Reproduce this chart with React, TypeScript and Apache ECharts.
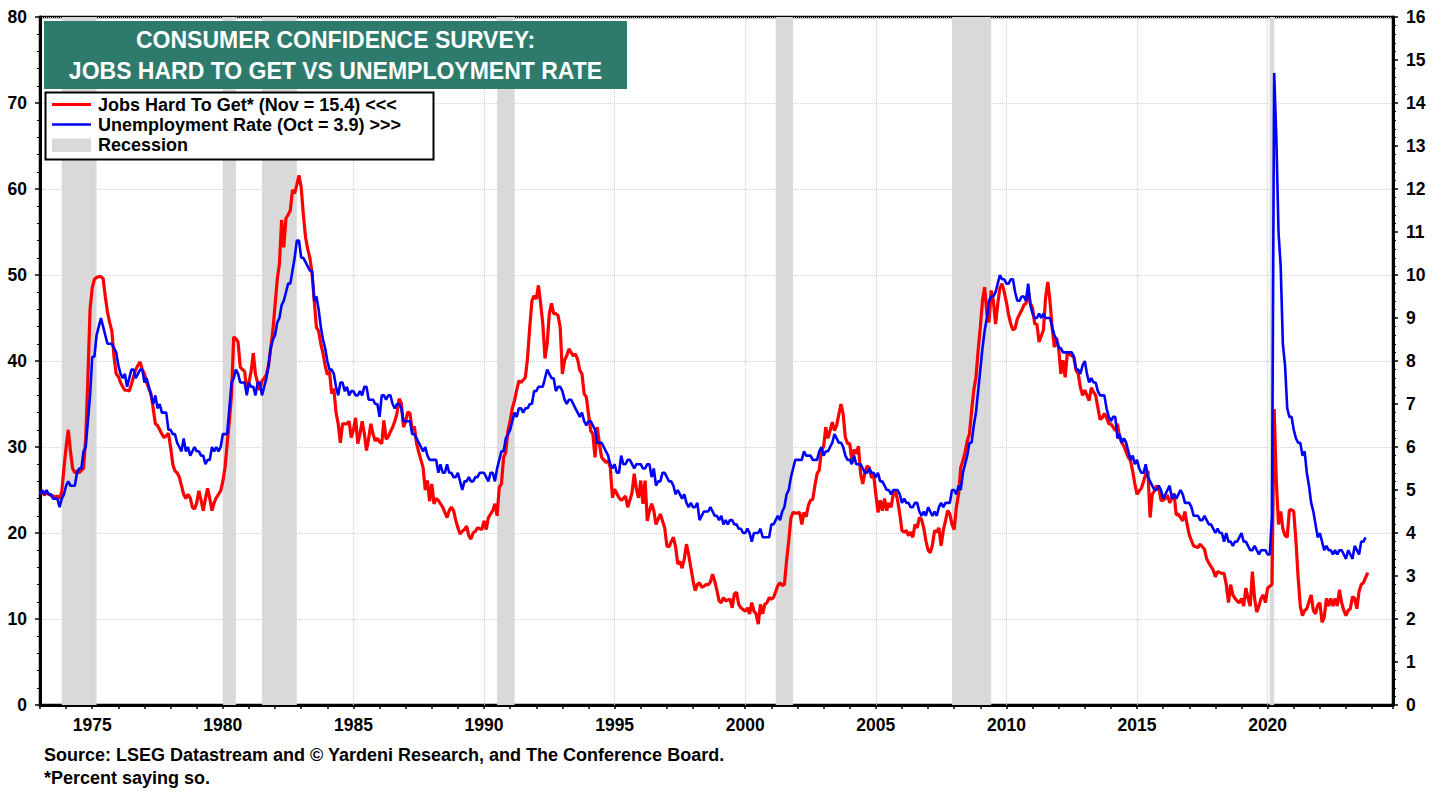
import React, { useEffect, useRef } from 'react';
import * as echarts from 'echarts';

const START_YEAR = 1973;
const X_MIN = 1973;
const X_MAX = 2024.8;

// Jobs Hard To Get (% saying so), monthly from Jan 1973
const jobsHard1970s = [
  24.6, 24.8, 24.4, 24.7, 24.5, 24.4, 24.3, 24.2, 24.3, 24.0, 24.8, 27.5,
  30.0, 32.0, 29.5, 27.5, 27.0, 27.2, 27.0, 27.3, 27.5, 31.0, 38.0, 46.0,
  48.5, 49.5, 49.7, 49.8, 49.8, 49.6, 47.5, 45.7, 44.5, 43.5, 40.5, 38.5,
  38.2, 37.5, 37.0, 36.6, 36.6, 36.5, 37.3, 38.2, 39.0, 39.5, 39.9, 39.0,
  38.5, 37.5, 36.8, 36.2, 34.5, 32.7, 32.5, 32.0, 31.5, 31.1, 31.3, 31.6,
  30.0, 28.0, 27.2, 27.0, 26.5, 25.5, 24.5, 24.0, 24.5, 24.1, 23.0, 22.8,
  23.5, 24.9, 23.8, 22.6, 24.0, 25.2, 24.0, 22.6, 23.5, 24.1, 24.5, 24.9,
];
const jobsHard1980s = [
  26.0, 27.6, 30.4, 33.0, 36.2, 42.8, 42.6, 42.2, 39.3, 39.0, 38.8, 36.6,
  37.5, 38.8, 40.9, 38.4, 37.5, 36.6, 37.7, 38.0, 38.4, 39.5, 41.5, 43.6,
  46.5, 49.5, 51.3, 56.4, 53.2, 56.6, 57.0, 57.5, 59.9, 59.5, 60.5, 61.6,
  60.2, 57.0, 54.4, 53.0, 52.0, 50.1, 47.0, 43.9, 43.5, 42.0, 40.9, 39.5,
  38.4, 38.8, 36.2, 36.8, 34.0, 32.7, 30.5, 32.7, 32.7, 32.7, 33.0, 31.1,
  32.0, 33.4, 30.4, 31.5, 33.0, 31.6, 29.6, 31.0, 32.7, 31.5, 30.7, 31.0,
  30.6, 30.4, 33.1, 30.9, 31.2, 31.8, 32.3, 33.0, 33.9, 35.6, 35.1, 32.3,
  33.0, 34.1, 33.9, 31.9, 32.4, 30.4, 29.4, 28.5, 27.6, 25.0, 26.1, 23.7,
  25.7, 23.4, 24.0, 23.8, 23.4, 23.0, 22.4, 21.8, 22.6, 23.0, 22.6, 21.5,
  20.6, 19.9, 20.2, 20.4, 20.8, 19.7, 19.3, 20.0, 20.2, 20.6, 20.5, 20.4,
];
const jobsHard1990s = [
  21.4, 20.4, 21.8, 22.2, 22.6, 23.4, 22.0, 25.3, 25.7, 28.8, 29.4, 31.9,
  33.0, 34.5, 35.4, 36.6, 37.7, 37.5, 37.8, 38.1, 40.4, 43.9, 47.0, 47.6,
  47.2, 48.8, 46.7, 44.3, 40.3, 42.0, 45.5, 46.7, 45.5, 45.5, 45.3, 43.9,
  38.5, 40.1, 40.6, 41.4, 41.0, 40.6, 40.8, 40.2, 38.9, 38.5, 36.2, 35.8,
  33.8, 31.9, 31.5, 28.8, 32.3, 30.4, 28.8, 28.5, 28.2, 28.4, 27.6, 24.1,
  25.1, 24.6, 24.1, 23.8, 24.0, 24.3, 23.0, 23.8, 24.7, 26.9, 25.1, 24.1,
  26.1, 23.4, 26.1, 21.4, 22.6, 23.4, 22.6, 21.0, 21.6, 22.2, 21.4, 20.6,
  18.5, 18.4, 19.0, 19.5, 18.4, 16.4, 16.7, 15.9, 17.0, 18.7, 17.5, 16.0,
  14.5, 13.3, 14.0, 14.2, 13.7, 13.8, 14.0, 14.0, 14.3, 15.2, 14.4, 13.3,
  12.1, 11.9, 12.5, 12.1, 12.2, 12.3, 11.3, 12.9, 13.1, 11.7, 11.3, 11.1,
];
const jobsHard2000s = [
  10.9, 11.3, 10.6, 11.9, 10.9, 10.6, 9.4, 11.7, 10.6, 11.7, 11.9, 12.5,
  12.3, 12.5, 13.2, 13.9, 14.2, 13.9, 14.0, 16.8, 19.1, 21.8, 22.4, 22.3,
  22.3, 22.4, 21.0, 22.4, 21.9, 23.2, 23.8, 23.9, 25.5, 26.9, 27.3, 29.6,
  30.0, 32.3, 31.0, 31.9, 32.9, 31.9, 32.5, 33.8, 35.0, 33.8, 31.1, 30.4,
  30.4, 28.4, 29.7, 29.2, 30.1, 26.9, 25.7, 27.0, 27.8, 27.6, 26.4, 26.8,
  24.5, 22.4, 23.8, 22.6, 24.0, 22.6, 23.5, 23.0, 24.5, 24.9, 23.8, 22.2,
  20.3, 20.1, 20.3, 19.7, 20.1, 19.5, 21.0, 20.6, 21.8, 21.6, 20.6, 19.1,
  18.0, 17.7, 18.6, 20.3, 20.1, 20.6, 18.5, 20.3, 21.4, 22.6, 22.2, 21.0,
  20.4, 23.0, 24.5, 27.6, 28.4, 29.4, 30.7, 31.5, 34.2, 36.6, 38.1, 41.2,
  43.9, 47.0, 48.6, 45.5, 44.5, 48.2, 47.0, 44.3, 46.6, 48.5, 49.0, 48.0,
];
const jobsHard2010s = [
  46.8, 45.4, 44.3, 43.6, 43.8, 44.9, 45.4, 45.9, 46.5, 46.7, 48.2, 46.7,
  46.2, 44.3, 44.3, 42.2, 42.9, 43.6, 47.4, 49.2, 47.0, 43.9, 41.6, 42.7,
  41.5, 38.5, 40.1, 38.1, 41.0, 40.8, 40.6, 40.4, 38.9, 38.5, 36.9, 36.0,
  36.6, 36.0, 35.4, 36.9, 36.4, 36.0, 34.6, 33.2, 33.4, 33.9, 33.4, 32.7,
  32.7, 32.3, 31.9, 32.7, 31.1, 30.5, 30.1, 29.4, 28.8, 28.4, 27.2, 25.7,
  24.5, 24.9, 25.2, 26.0, 26.9, 27.2, 21.8, 24.5, 24.9, 25.5, 25.2, 23.8,
  23.8, 24.0, 24.4, 23.5, 24.0, 24.6, 22.1, 22.2, 21.8, 21.4, 22.5, 21.0,
  19.8, 19.1, 18.5, 18.4, 18.3, 18.7, 18.4, 18.1, 17.0, 16.5, 16.1, 15.7,
  14.9, 15.5, 15.4, 15.3, 15.3, 14.0, 11.9, 14.0, 12.8, 12.4, 12.1, 11.9,
  12.4, 11.5, 13.6, 12.4, 11.5, 15.5, 12.4, 10.8, 11.5, 12.4, 12.8, 11.9,
];
const jobsHard2020s = [
  13.6, 13.8, 14.0, 34.4, 26.0, 21.0, 22.5, 20.5, 19.7, 19.5, 22.7, 22.7,
  22.5, 19.1, 14.9, 11.5, 10.4, 11.0, 11.2, 12.0, 12.8, 11.0, 10.6, 11.6,
  11.9, 9.6, 10.2, 12.4, 11.5, 12.4, 11.5, 12.4, 11.5, 13.4, 11.9, 11.0,
  10.4, 11.0, 11.2, 12.6, 12.4, 11.2, 13.2, 14.0, 14.2, 14.8, 15.4,
];

// Unemployment rate (%), monthly from Jan 1973
const unemp1970s = [
  4.9, 5.0, 4.9, 5.0, 4.9, 4.9, 4.8, 4.8, 4.8, 4.6, 4.8, 4.9,
  5.1, 5.2, 5.1, 5.1, 5.1, 5.4, 5.5, 5.5, 5.9, 6.0, 6.6, 7.2,
  8.1, 8.1, 8.6, 8.8, 9.0, 8.8, 8.6, 8.4, 8.4, 8.4, 8.3, 8.2,
  7.9, 7.7, 7.6, 7.7, 7.4, 7.6, 7.8, 7.8, 7.6, 7.7, 7.8, 7.8,
  7.5, 7.6, 7.4, 7.2, 7.0, 7.2, 6.9, 7.0, 6.8, 6.8, 6.8, 6.4,
  6.4, 6.3, 6.3, 6.1, 6.0, 5.9, 6.2, 5.9, 6.0, 5.8, 5.9, 6.0,
  5.9, 5.9, 5.8, 5.8, 5.6, 5.7, 5.7, 6.0, 5.9, 6.0, 5.9, 6.0,
];
const unemp1980s = [
  6.3, 6.3, 6.3, 6.9, 7.5, 7.6, 7.8, 7.7, 7.5, 7.5, 7.5, 7.2,
  7.5, 7.4, 7.4, 7.2, 7.5, 7.5, 7.2, 7.4, 7.6, 7.9, 8.3, 8.5,
  8.6, 8.9, 9.0, 9.3, 9.4, 9.6, 9.8, 9.8, 10.1, 10.4, 10.8, 10.8,
  10.4, 10.4, 10.3, 10.2, 10.1, 10.1, 9.4, 9.5, 9.2, 8.8, 8.5, 8.3,
  8.0, 7.8, 7.8, 7.7, 7.4, 7.2, 7.5, 7.5, 7.3, 7.4, 7.2, 7.3,
  7.3, 7.2, 7.2, 7.3, 7.2, 7.4, 7.4, 7.1, 7.1, 7.1, 7.0, 7.0,
  6.7, 7.2, 7.2, 7.1, 7.2, 7.2, 7.0, 6.9, 7.0, 7.0, 6.9, 6.6,
  6.6, 6.6, 6.6, 6.3, 6.3, 6.2, 6.1, 6.0, 5.9, 6.0, 5.8, 5.7,
  5.7, 5.7, 5.7, 5.4, 5.6, 5.4, 5.4, 5.6, 5.4, 5.4, 5.3, 5.3,
  5.4, 5.2, 5.0, 5.2, 5.2, 5.3, 5.2, 5.2, 5.3, 5.3, 5.4, 5.4,
];
const unemp1990s = [
  5.4, 5.3, 5.2, 5.4, 5.4, 5.2, 5.5, 5.7, 5.9, 5.9, 6.2, 6.3,
  6.4, 6.6, 6.8, 6.7, 6.9, 6.9, 6.8, 6.9, 6.9, 7.0, 7.0, 7.3,
  7.3, 7.4, 7.4, 7.4, 7.6, 7.8, 7.7, 7.6, 7.6, 7.3, 7.4, 7.4,
  7.3, 7.1, 7.0, 7.1, 7.1, 7.0, 6.9, 6.8, 6.7, 6.8, 6.6, 6.5,
  6.6, 6.6, 6.5, 6.4, 6.1, 6.1, 6.1, 6.0, 5.9, 5.8, 5.6, 5.5,
  5.6, 5.4, 5.4, 5.8, 5.6, 5.6, 5.7, 5.7, 5.6, 5.5, 5.6, 5.6,
  5.6, 5.5, 5.5, 5.6, 5.6, 5.3, 5.5, 5.1, 5.2, 5.2, 5.4, 5.4,
  5.3, 5.2, 5.2, 5.1, 4.9, 5.0, 4.9, 4.8, 4.9, 4.7, 4.6, 4.7,
  4.6, 4.6, 4.7, 4.3, 4.4, 4.5, 4.5, 4.5, 4.6, 4.5, 4.4, 4.4,
  4.3, 4.4, 4.2, 4.3, 4.2, 4.3, 4.3, 4.2, 4.2, 4.1, 4.1, 4.0,
];
const unemp2000s = [
  4.0, 4.1, 4.0, 3.8, 4.0, 4.0, 4.0, 4.1, 3.9, 3.9, 3.9, 3.9,
  4.2, 4.2, 4.3, 4.4, 4.3, 4.5, 4.6, 4.9, 5.0, 5.3, 5.5, 5.7,
  5.7, 5.7, 5.7, 5.9, 5.8, 5.8, 5.8, 5.7, 5.7, 5.7, 5.9, 6.0,
  5.8, 5.9, 5.9, 6.0, 6.1, 6.3, 6.2, 6.1, 6.1, 6.0, 5.8, 5.7,
  5.7, 5.6, 5.8, 5.6, 5.6, 5.6, 5.5, 5.4, 5.4, 5.5, 5.4, 5.4,
  5.3, 5.4, 5.2, 5.2, 5.1, 5.0, 5.0, 4.9, 5.0, 5.0, 5.0, 4.9,
  4.7, 4.8, 4.7, 4.7, 4.6, 4.6, 4.7, 4.7, 4.5, 4.4, 4.5, 4.4,
  4.6, 4.5, 4.4, 4.5, 4.4, 4.6, 4.7, 4.6, 4.7, 4.7, 4.7, 5.0,
  5.0, 4.9, 5.1, 5.0, 5.4, 5.6, 5.8, 6.1, 6.1, 6.5, 6.8, 7.3,
  7.8, 8.3, 8.7, 9.0, 9.4, 9.5, 9.5, 9.6, 9.8, 10.0, 9.9, 9.9,
];
const unemp2010s = [
  9.8, 9.8, 9.9, 9.9, 9.6, 9.4, 9.4, 9.5, 9.5, 9.4, 9.8, 9.3,
  9.1, 9.0, 9.0, 9.1, 9.0, 9.1, 9.0, 9.0, 9.0, 8.8, 8.6, 8.5,
  8.3, 8.3, 8.2, 8.2, 8.2, 8.2, 8.2, 8.1, 7.8, 7.8, 7.7, 7.9,
  8.0, 7.7, 7.5, 7.6, 7.5, 7.5, 7.3, 7.2, 7.2, 7.2, 6.9, 6.7,
  6.6, 6.7, 6.7, 6.2, 6.3, 6.1, 6.2, 6.1, 5.9, 5.7, 5.8, 5.6,
  5.7, 5.5, 5.4, 5.4, 5.6, 5.3, 5.2, 5.1, 5.0, 5.0, 5.1, 5.0,
  4.8, 4.9, 5.0, 5.1, 4.8, 4.9, 4.8, 4.9, 5.0, 4.9, 4.7, 4.7,
  4.7, 4.6, 4.4, 4.4, 4.4, 4.3, 4.3, 4.4, 4.3, 4.2, 4.2, 4.1,
  4.0, 4.1, 4.0, 4.0, 3.8, 4.0, 3.8, 3.8, 3.7, 3.8, 3.8, 3.9,
  4.0, 3.8, 3.8, 3.7, 3.6, 3.6, 3.7, 3.6, 3.5, 3.6, 3.6, 3.6,
];
const unemp2020s = [
  3.5, 3.5, 4.4, 14.7, 13.2, 11.0, 10.2, 8.4, 7.9, 6.9, 6.7, 6.7,
  6.4, 6.2, 6.1, 6.1, 5.8, 5.9, 5.4, 5.1, 4.7, 4.5, 4.2, 3.9,
  4.0, 3.8, 3.6, 3.7, 3.6, 3.6, 3.5, 3.6, 3.5, 3.6, 3.6, 3.5,
  3.4, 3.6, 3.5, 3.4, 3.7, 3.6, 3.5, 3.8, 3.8, 3.9,
];

// NBER recessions [start, end] in decimal years
const recessionStarts = [1973.833, 1980.0, 1981.5, 1990.5, 2001.167, 2007.917, 2020.083];
const recessionEnds = [1975.167, 1980.5, 1982.833, 1991.167, 2001.833, 2009.417, 2020.25];

const xTickLabels = [1975, 1980, 1985, 1990, 1995, 2000, 2005, 2010, 2015, 2020];

const titleLines = ['CONSUMER CONFIDENCE SURVEY:', 'JOBS HARD TO GET VS UNEMPLOYMENT RATE'];
const legendLabels = [
  'Jobs Hard To Get* (Nov = 15.4) <<<',
  'Unemployment Rate (Oct = 3.9) >>>',
  'Recession',
];
const footnotes = [
  'Source: LSEG Datastream and \u00A9 Yardeni Research, and The Conference Board.',
  '*Percent saying so.',
];

const FONT = '"Liberation Sans", Arial, Helvetica, sans-serif';

const toSeries = (vals: number[]) => vals.map((v, i) => [START_YEAR + i / 12, v]);

export default function App() {
  const ref = useRef<HTMLDivElement>(null);

  useEffect(() => {
    if (!ref.current) return;
    const chart = echarts.init(ref.current, undefined, { renderer: 'svg' });

    const jobsData = toSeries([
      ...jobsHard1970s, ...jobsHard1980s, ...jobsHard1990s,
      ...jobsHard2000s, ...jobsHard2010s, ...jobsHard2020s,
    ]);
    const unempData = toSeries([
      ...unemp1970s, ...unemp1980s, ...unemp1990s,
      ...unemp2000s, ...unemp2010s, ...unemp2020s,
    ]);

    const labelStyle = {
      color: '#000',
      fontSize: 17.5,
      fontWeight: 'bold' as const,
      fontFamily: FONT,
    };

    const option: any = {
      animation: false,
      backgroundColor: '#fff',
      grid: {
        left: 40,
        right: 53,
        top: 17,
        bottom: 87,
        show: true,
        borderColor: '#000',
        borderWidth: 2.5,
        backgroundColor: 'transparent',
      },
      xAxis: {
        type: 'value',
        min: X_MIN,
        max: X_MAX,
        interval: 1,
        axisLine: { show: true, onZero: false, lineStyle: { color: '#000', width: 3 } },
        axisTick: { show: true, length: 4, lineStyle: { color: '#000', width: 1.5 } },
        axisLabel: {
          ...labelStyle,
          margin: 11,
          showMinLabel: true,
          showMaxLabel: true,
          formatter: (v: number) => {
            const r = Math.round(v);
            return Math.abs(v - r) < 1e-6 && xTickLabels.includes(r) ? String(r) : '';
          },
        },
        splitLine: { show: false },
      },
      yAxis: [
        {
          type: 'value',
          position: 'left',
          min: 0,
          max: 80,
          interval: 10,
          axisLine: { show: true, lineStyle: { color: '#000', width: 3 } },
          axisTick: { show: true, length: 5, lineStyle: { color: '#000', width: 1.5 } },
          minorTick: { show: true, splitNumber: 5, length: 3, lineStyle: { color: '#000', width: 1 } },
          axisLabel: { ...labelStyle, margin: 13 },
          splitLine: { show: true, lineStyle: { color: '#cfcfcf', type: 'dotted', width: 1 } },
        },
        {
          type: 'value',
          position: 'right',
          min: 0,
          max: 16,
          interval: 1,
          axisLine: { show: true, lineStyle: { color: '#000', width: 3 } },
          axisTick: { show: true, length: 5, lineStyle: { color: '#000', width: 1.5 } },
          minorTick: { show: true, splitNumber: 5, length: 3, lineStyle: { color: '#000', width: 1 } },
          axisLabel: { ...labelStyle, margin: 13 },
          splitLine: { show: false },
        },
      ],
      series: [
        {
          name: 'Recession',
          type: 'line',
          data: [],
          silent: true,
          z: 1,
          markArea: {
            silent: true,
            z: 1,
            itemStyle: { color: '#d9d9d9' },
            data: recessionStarts.map((s, i) => [{ xAxis: s }, { xAxis: recessionEnds[i] }]),
          },
          markLine: {
            silent: true,
            z: 1,
            symbol: ['none', 'none'],
            label: { show: false },
            lineStyle: { color: '#cfcfcf', type: 'dotted', width: 1 },
            data: xTickLabels.map((x) => ({ xAxis: x })),
          },
        },
        {
          name: 'Jobs Hard To Get',
          type: 'line',
          data: jobsData,
          yAxisIndex: 0,
          showSymbol: false,
          symbol: 'none',
          lineStyle: { color: '#ff0000', width: 3.2 },
          itemStyle: { color: '#ff0000' },
          z: 3,
        },
        {
          name: 'Unemployment Rate',
          type: 'line',
          data: unempData,
          yAxisIndex: 1,
          showSymbol: false,
          symbol: 'none',
          lineStyle: { color: '#0000ff', width: 2.6 },
          itemStyle: { color: '#0000ff' },
          z: 4,
        },
      ],
      graphic: [
        {
          type: 'rect',
          z: 100,
          shape: { x: 44, y: 21, width: 583, height: 68 },
          style: { fill: '#2e7b6d' },
        },
        {
          type: 'text',
          z: 101,
          x: 335.5,
          y: 39.5,
          style: {
            text: titleLines[0],
            fill: '#fff',
            font: `bold 23px ${FONT}`,
            align: 'center',
            verticalAlign: 'middle',
          },
        },
        {
          type: 'text',
          z: 101,
          x: 335.5,
          y: 71,
          style: {
            text: titleLines[1],
            fill: '#fff',
            font: `bold 23px ${FONT}`,
            align: 'center',
            verticalAlign: 'middle',
          },
        },
        {
          type: 'rect',
          z: 100,
          shape: { x: 45.5, y: 92.5, width: 388, height: 67 },
          style: { fill: '#fff', stroke: '#000', lineWidth: 2 },
        },
        {
          type: 'line',
          z: 101,
          shape: { x1: 52, y1: 104.5, x2: 91, y2: 104.5 },
          style: { stroke: '#ff0000', lineWidth: 3 },
        },
        {
          type: 'line',
          z: 101,
          shape: { x1: 52, y1: 124.5, x2: 91, y2: 124.5 },
          style: { stroke: '#0000ff', lineWidth: 2.5 },
        },
        {
          type: 'rect',
          z: 101,
          shape: { x: 52, y: 138.5, width: 39, height: 13.5 },
          style: { fill: '#d9d9d9' },
        },
        ...legendLabels.map((t, i) => ({
          type: 'text',
          z: 101,
          x: 98,
          y: [104.5, 124.5, 145][i],
          style: {
            text: t,
            fill: '#000',
            font: `bold 18px ${FONT}`,
            align: 'left',
            verticalAlign: 'middle',
          },
        })),
        ...footnotes.map((t, i) => ({
          type: 'text',
          z: 101,
          x: 44,
          y: [755.2, 777.5][i],
          style: {
            text: t,
            fill: '#000',
            font: `bold 18px ${FONT}`,
            align: 'left',
            verticalAlign: 'middle',
          },
        })),
      ],
    };

    chart.setOption(option);
    return () => {
      chart.dispose();
    };
  }, []);

  return (
    <div
      ref={ref}
      style={{ position: 'fixed', left: 0, top: 0, width: 1446, height: 792, background: '#fff' }}
    />
  );
}
